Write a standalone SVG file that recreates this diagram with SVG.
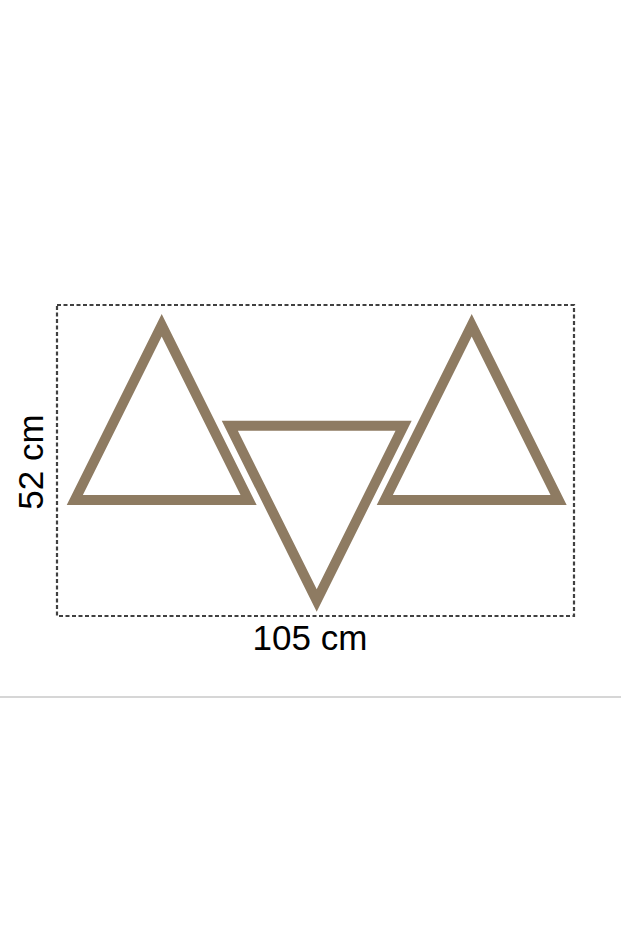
<svg xmlns="http://www.w3.org/2000/svg" width="621" height="931" viewBox="0 0 621 931">
<style>
.tri{fill:none;stroke:#8e7b62;stroke-width:10;stroke-linejoin:miter;stroke-miterlimit:10}
.dim{fill:none;stroke:#404040;stroke-width:2.2;stroke-dasharray:4 2.5}
.lbl{font-family:"Liberation Sans",Arial,sans-serif;font-size:35px;fill:#000}
</style>
<rect width="621" height="931" fill="#fff"/>
<g id="frame">
<rect class="dim" x="57" y="305" width="517" height="311"/>
</g>
<g id="tri-left"><polygon class="tri" points="161.7,325.2 74.8,500 248.6,500"/></g>
<g id="tri-middle"><polygon class="tri" points="229.8,425.7 403.6,425.7 316.7,600.5"/></g>
<g id="tri-right"><polygon class="tri" points="471.7,325.2 384.8,500 558.6,500"/></g>
<g id="labels">
<text class="lbl" x="310" y="650" text-anchor="middle">105 cm</text>
<text class="lbl" transform="translate(43,462) rotate(-90)" text-anchor="middle">52 cm</text>
</g>
<line x1="0" y1="697" x2="621" y2="697" stroke="#c8c8c8" stroke-width="1.5"/>
</svg>
